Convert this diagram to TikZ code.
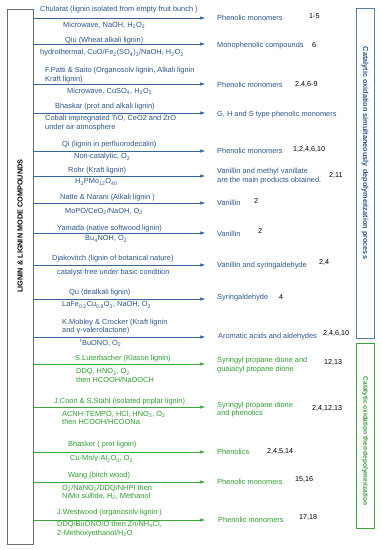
\documentclass[tikz,border=0pt]{standalone}
\usepackage{fontspec}
\setmainfont{Liberation Sans}
\usepackage{xcolor}
\usepackage{tikz}
\usetikzlibrary{arrows.meta,positioning,calc}
\definecolor{clrBlue}{HTML}{2A5590}
\definecolor{clrBlueLn}{HTML}{3566A0}
\definecolor{clrBlueBox}{HTML}{5A7EA8}
\definecolor{clrGreen}{HTML}{2E9E2E}
\definecolor{clrGreenLn}{HTML}{3CA83C}
\definecolor{clrFrame}{HTML}{6E6E6E}
\tikzset{
  txt/.style={anchor=west, inner sep=0pt, align=left,
    font=\fontsize{7.4}{8.4}\selectfont},
  btxt/.style={txt, text=clrBlue},
  gtxt/.style={txt, text=clrGreen},
  reftxt/.style={txt, text=black, font=\fontsize{7.2}{8.4}\selectfont},
  barrow/.style={-{Stealth[length=5pt,width=3.2pt,inset=0.6pt]},
    line width=0.8pt, clrBlueLn},
  garrow/.style={barrow, clrGreenLn},
  sidebox/.style={rectangle, line width=0.9pt, inner sep=0pt},
  sidelbl/.style={inner sep=0pt, font=\fontsize{7.3}{8.4}\selectfont\bfseries},
}

\begin{document}
\begin{tikzpicture}[x=1pt, y=-1pt]
\useasboundingbox (0,0) rectangle (381,550);

\def\xarr{205}   % Pfeilspitzen
\def\xprod{217}  % linke Kante der Produkte

% ── Rahmen ─────────────────────────────────────────────────────────────────
\node[sidebox, draw=clrFrame, minimum width=26pt, minimum height=535pt]
  (lbox) at (20,276.5) {};
\node[sidelbl, rotate=90] (lbl) at (20,226) {LIGNIN \& LIGNIN MODE COMPOUNDS};

\node[sidebox, draw=clrBlueBox, minimum width=18pt, minimum height=330pt]
  (bbox) at (365,173) {};
\node[sidelbl, rotate=-90, text=clrBlue] (blbl) at (365,153)
  {Catalytic oxidation simultaneously depolymerization process};

\node[sidebox, draw=clrGreenLn, minimum width=18pt, minimum height=185pt]
  (gbox) at (365,435.5) {};
\node[sidelbl, rotate=-90, text=clrGreen, font=\fontsize{6.5}{8}\selectfont\bfseries]
  (glbl) at (365,441) {Catalytic oxidation then depolymerization};

% ── Pfeile ─────────────────────────────────────────────────────────────────
\foreach \i/\y in {1/18, 2/44, 3/84, 4/113, 5/151, 6/176, 7/203, 8/233,
                   9/265, 10/299, 11/337}{
  \coordinate (a\i) at (\xarr,\y);
  \draw[barrow] (lbox.east |- a\i) -- (a\i);
}
\foreach \i/\y in {12/364, 13/407, 14/452, 15/482, 16/520}{
  \coordinate (a\i) at (\xarr,\y);
  \draw[garrow] (lbox.east |- a\i) -- (a\i);
}

% ── gleichzeitige Oxidation ────────────────────────────────────────────────
\node[btxt] (s1) at (40,10) {Chularat (lignin isolated from empty fruit bunch )};
\node[btxt] (c1) at (63,25) {Microwave, NaOH, H\textsubscript{2}O\textsubscript{2}};
\node[btxt] (p1) at (\xprod,18) {Phenolic monomers};
\node[reftxt] (r1) at (309,16) {1-5};

\node[btxt] (s2) at (65,41) {Qiu (Wheat alkali lignin)};
\node[btxt] (c2) at (40,53) {hydrothermal, CuO/Fe\textsubscript{2}(SO\textsubscript{4})\textsubscript{3}/NaOH, H\textsubscript{2}O\textsubscript{2}};
\node[btxt] (p2) at (\xprod,46) {Monophenolic compounds};
\node[reftxt] (r2) at (312,45) {6};

\node[btxt] (s3) at (45,75) {F.Patti \& Saito (Organosolv lignin, Alkali lignin\\Kraft lignin)};
\node[btxt] (c3) at (67,91) {Microwave, CuSO\textsubscript{4}, H\textsubscript{2}O\textsubscript{2}};
\node[btxt] (p3) at (\xprod,85) {Phenolic monomers};
\node[reftxt] (r3) at (295,84) {2,4,6-9};

\node[btxt] (s4) at (55,107) {Bhaskar (prot and alkali lignin)};
\node[btxt] (c4) at (45,123) {Cobalt impregnated TiO, CeO2 and ZrO\\under air atmosphere};
\node[btxt] (p4) at (\xprod,115) {G, H and S type phenolic monomers};

\node[btxt] (s5) at (62,145) {Qi (lignin in perfluorodecalin)};
\node[btxt] (c5) at (74,157) {Non-catalytic, O\textsubscript{2}};
\node[btxt] (p5) at (\xprod,151) {Phenolic monomers};
\node[reftxt] (r5) at (293,149) {1,2,4,6,10};

\node[btxt] (s6) at (68,171) {Rohr (Kraft lignin)};
\node[btxt] (c6) at (75,182) {H\textsubscript{3}PMo\textsubscript{12}O\textsubscript{40}};
\node[btxt] (p6) at (\xprod,176) {Vanillin and methyl vanillate\\are the main products obtained.};
\node[reftxt] (r6) at (329,175) {2,11};

\node[btxt] (s7) at (60,198) {Natte \& Narani (Alkali lignin )};
\node[btxt] (c7) at (65,211) {MoPO/CeO\textsubscript{2}/NaOH, O\textsubscript{2}};
\node[btxt] (p7) at (\xprod,203) {Vanillin};
\node[reftxt] (r7) at (254,201) {2};

\node[btxt] (s8) at (57,229) {Yamada (native softwood lignin)};
\node[btxt] (c8) at (85,239) {Bu\textsubscript{4}NOH, O\textsubscript{2}};
\node[btxt] (p8) at (\xprod,234) {Vanillin};
\node[reftxt] (r8) at (258,231) {2};

\node[btxt] (s9) at (52,259) {Djakovitch (lignin of botanical nature)};
\node[btxt] (c9) at (57,273) {catalyst-free under basic condition};
\node[btxt] (p9) at (\xprod,266) {Vanillin and syringaldehyde};
\node[reftxt] (r9) at (319,262) {2,4};

\node[btxt] (s10) at (69,293) {Qu (dealkali lignin)};
\node[btxt] (c10) at (62,305) {LaFe\textsubscript{0.2}Cu\textsubscript{0.8}O\textsubscript{3}, NaOH, O\textsubscript{2}};
\node[btxt] (p10) at (\xprod,298) {Syringaldehyde};
\node[reftxt] (r10) at (279,297) {4};

\node[btxt] (s11) at (62,326.5) {K.Mobley \& Crocker (Kraft lignin\\and γ-valerolactone)};
\node[btxt] (c11) at (80,343) {\textsuperscript{t}BuONO, O\textsubscript{2}};
\node[btxt] (p11) at (218,337) {Aromatic acids and aldehydes};
\node[reftxt] (r11) at (323,333) {2,4,6,10};

% ── Oxidation, dann Depolymerisation ───────────────────────────────────────
\node[gtxt] (s12) at (75,359) {S.Luterbacher (Klason lignin)};
\node[gtxt] (c12) at (76,375.5) {DDQ, HNO\textsubscript{3}, O\textsubscript{2}\\then HCOOH/NaOOCH};
\node[gtxt] (p12) at (\xprod,365) {Syringyl propane dione and\\guaiacyl propane dione};
\node[reftxt] (r12) at (324,362) {12,13};

\node[gtxt] (s13) at (54,402) {J.Coon \& S.Stahl (isolated poplar lignin)};
\node[gtxt] (c13) at (62,418) {ACNH-TEMPO, HCl, HNO\textsubscript{3}, O\textsubscript{2}\\then HCOOH/HCOONa};
\node[gtxt] (p13) at (\xprod,409.5) {Syringyl propane dione\\and phenolics};
\node[reftxt] (r13) at (312,408) {2,4,12,13};

\node[gtxt] (s14) at (68,445) {Bhasker ( prot lignin)};
\node[gtxt] (c14) at (70,459) {Cu-Mn/γ-Al\textsubscript{2}O\textsubscript{3}, O\textsubscript{2}};
\node[gtxt] (p14) at (\xprod,452) {Phenolics};
\node[reftxt] (r14) at (267,451) {2,4,5,14};

\node[gtxt] (s15) at (68,476) {Wang (birch wood)};
\node[gtxt] (c15) at (62,492.5) {O\textsubscript{2}/NaNO\textsubscript{2}/DDQ/NHPI then\\NiMo sulfide, H\textsubscript{2}, Methanol};
\node[gtxt] (p15) at (\xprod,482) {Phenolic monomers};
\node[reftxt] (r15) at (295,479) {15,16};

\node[gtxt] (s16) at (57,513) {J.Westwood (organosolv lignin )};
\node[gtxt] (c16) at (57,529) {DDQ/BuONO/O then Zn/NH\textsubscript{4}Cl,\\2-Methoxyethanol/H\textsubscript{2}O};
\node[gtxt] (p16) at (218,520) {Phenolic monomers};
\node[reftxt] (r16) at (299,517) {17,18};

\end{tikzpicture}
\end{document}
